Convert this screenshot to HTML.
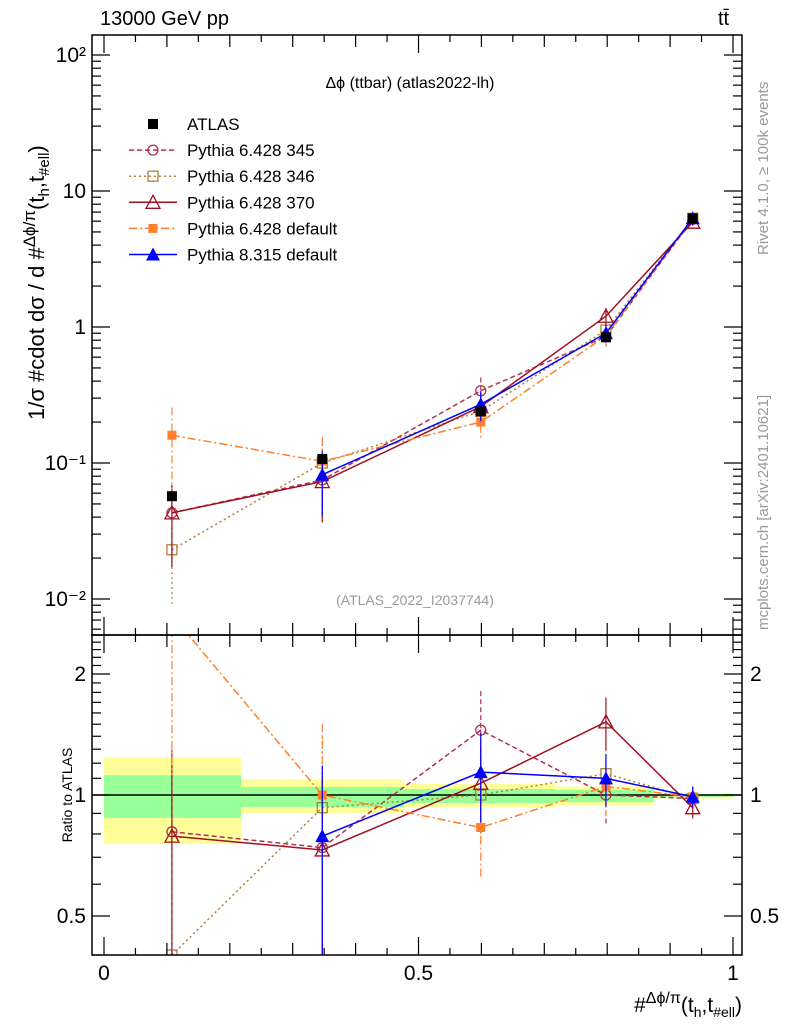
<!DOCTYPE html>
<html><head><meta charset="utf-8"><style>
html,body{margin:0;padding:0;background:#fff;overflow:hidden;width:786px;height:1024px}
svg{display:block;font-family:"Liberation Sans",sans-serif}
</style></head><body>
<svg id="c" width="786" height="1024" xmlns="http://www.w3.org/2000/svg">
<defs>
<clipPath id="cm"><rect x="92" y="35" width="650" height="600"/></clipPath>
<clipPath id="cr"><rect x="92" y="635" width="650" height="320"/></clipPath>
</defs>
<g id="bands" clip-path="url(#cr)"></g>
<g id="main" clip-path="url(#cm)"></g>
<g id="ratio" clip-path="url(#cr)"></g>
<g id="axes"></g>
<rect x="92" y="35" width="650" height="600" fill="none" stroke="#000" stroke-width="1.5"/>
<rect x="92" y="635" width="650" height="320" fill="none" stroke="#000" stroke-width="1.5"/>
<text x="100" y="25" font-size="20">13000 GeV pp</text>
<text x="718" y="25" font-size="20">tt̄</text>
<text x="410" y="88" font-size="16" text-anchor="middle">Δϕ (ttbar) (atlas2022-lh)</text>
<text x="415" y="605" font-size="14" fill="#999" text-anchor="middle">(ATLAS_2022_I2037744)</text>
<text transform="translate(768,255) rotate(-90)" font-size="15" fill="#999">Rivet 4.1.0, ≥ 100k events</text>
<text transform="translate(768,630) rotate(-90)" font-size="15" fill="#999">mcplots.cern.ch [arXiv:2401.10621]</text>
<text transform="translate(44,420) rotate(-90)" font-size="22">1/σ #cdot dσ / d #<tspan font-size="17" dy="-9">Δϕ/π</tspan><tspan dy="9">(t</tspan><tspan font-size="15" dy="5">h</tspan><tspan dy="-5">,t</tspan><tspan font-size="15" dy="5">#ell</tspan><tspan dy="-5">)</tspan></text>
<text transform="translate(72,795) rotate(-90)" font-size="14" text-anchor="middle">Ratio to ATLAS</text>
<text x="742" y="1012" font-size="21" text-anchor="end">#<tspan font-size="16" dy="-9">Δϕ/π</tspan><tspan dy="9">(t</tspan><tspan font-size="14" dy="5">h</tspan><tspan dy="-5">,t</tspan><tspan font-size="14" dy="5">#ell</tspan><tspan dy="-5">)</tspan></text>
<g id="legend"></g>
</svg>
<script>
const xs=[0.108,0.347,0.599,0.798,0.936];
const atlas=[0.057,0.107,0.24,0.84,6.3];
const p345=[0.043,0.075,0.34,0.85,6.2];
const p346=[0.023,0.10,0.24,0.95,6.3];
const p370=[0.043,0.073,0.26,1.2,5.9];
const pdef=[0.16,0.103,0.20,0.86,6.3];
const p8=[null,0.082,0.27,0.90,6.3];
const r345=[0.81,0.74,1.45,1.0,0.98];
const r346=[0.40,0.93,1.0,1.13,0.98];
const r370=[0.79,0.73,1.07,1.52,0.93];
const rdef=[2.8,1.0,0.83,1.05,0.99];
const r8=[null,0.79,1.14,1.10,0.99];
const relErr=[0.6,0.5,0.25,0.15,0.06];
const binEdges=[0,0.218,0.477,0.717,0.874,1.0];
const yellowLo=[0.755,0.90,0.933,0.944,0.98];
const yellowHi=[1.24,1.095,1.065,1.05,1.01];
const greenLo=[0.877,0.933,0.955,0.96,0.99];
const greenHi=[1.12,1.047,1.035,1.03,1.006];
const NS='http://www.w3.org/2000/svg';
const X=v=>104+v*629;
const Ym=v=>327-136*Math.log10(v);
const Yr=v=>795-402*Math.log10(v);
function mk(tag,at,par){const e=document.createElementNS(NS,tag);for(const k in at)e.setAttribute(k,at[k]);document.getElementById(par).appendChild(e);return e;}
for(let i=0;i<5;i++){
 const y=mk('rect',{x:X(binEdges[i]),width:X(binEdges[i+1])-X(binEdges[i]),y:Yr(yellowHi[i]),height:Yr(yellowLo[i])-Yr(yellowHi[i]),fill:'#ffff99'},'bands');
 
 
 const g=mk('rect',{x:X(binEdges[i]),width:X(binEdges[i+1])-X(binEdges[i]),y:Yr(greenHi[i]),height:Yr(greenLo[i])-Yr(greenHi[i]),fill:'#99ff99'},'bands');
 
 
}
const one=mk('line',{x1:92,x2:742,y1:Yr(1),y2:Yr(1),stroke:'#000','stroke-width':1.5},'bands');


function marker(type,x,y,col,par){
 let e;
 if(type==='sq') e=mk('rect',{x:x-5,y:y-5,width:10,height:10,fill:col},par);
 if(type==='osq') e=mk('rect',{x:x-5,y:y-5,width:10,height:10,fill:'none',stroke:col,'stroke-width':1.3},par);
 if(type==='oc') e=mk('circle',{cx:x,cy:y,r:5,fill:'none',stroke:col,'stroke-width':1.3},par);
 if(type==='ot') e=mk('polygon',{points:`${x},${y-7} ${x-7},${y+6} ${x+7},${y+6}`,fill:'none',stroke:col,'stroke-width':1.3},par);
 if(type==='t') e=mk('polygon',{points:`${x},${y-7} ${x-7},${y+6} ${x+7},${y+6}`,fill:col},par);
 if(type==='fsq') e=mk('rect',{x:x-4.5,y:y-4.5,width:9,height:9,fill:col},par);
 
 
}
const series=[
 {n:'pythia-345',m:p345,r:r345,c:'#b03050',d:'5,3',t:'oc',lab:'Pythia 6.428 345'},
 {n:'pythia-346',m:p346,r:r346,c:'#b0803a',d:'2,3',t:'osq',lab:'Pythia 6.428 346'},
 {n:'pythia-370',m:p370,r:r370,c:'#a01020',d:'',t:'ot',lab:'Pythia 6.428 370'},
 {n:'pythia6-default',m:pdef,r:rdef,c:'#ff7f2a',d:'8,3,2,3',t:'fsq',lab:'Pythia 6.428 default'},
 {n:'pythia8-default',m:p8,r:r8,c:'#0000ff',d:'',t:'t',lab:'Pythia 8.315 default'}];
function drawSeries(s,vals,Y,par){
 let pts=[];
 vals.forEach((v,i)=>{if(v!=null)pts.push([X(xs[i]),Y(v),i,v]);});
 const l=mk('polyline',{points:pts.map(p=>p[0]+','+p[1]).join(' '),fill:'none',stroke:s.c,'stroke-width':1.5,'stroke-dasharray':s.d},par);
 
 
 pts.forEach(p=>{
  const e=relErr[p[2]];
  const eb=mk('line',{x1:p[0],x2:p[0],y1:Y(p[3]*(1+e)),y2:Y(Math.max(p[3]*(1-e),1e-4)),stroke:s.c,'stroke-width':1.2,'stroke-dasharray':s.d},par);
  
  
  marker(s.t,p[0],p[1],s.c,par);
 });
}
series.forEach(s=>{drawSeries(s,s.m,Ym,'main');drawSeries(s,s.r,Yr,'ratio');});
atlas.forEach((v,i)=>marker('sq',X(xs[i]),Ym(v),'#000','main'));
function ln(x1,y1,x2,y2,name){const e=mk('line',{x1,y1,x2,y2,stroke:'#000','stroke-width':1.2},'axes');}
function tx(x,y,s,anchor,name,fs){const e=mk('text',{x,y,'font-size':fs||21,'text-anchor':anchor},'axes');e.textContent=s;return e;}
for(let d=-3;d<=2;d++)for(let k=1;k<10;k++){const v=k*Math.pow(10,d);const y=Ym(v);if(y<35||y>635)continue;const L=k===1?18:9;ln(92,y,92+L,y,'y-tick');ln(742,y,742-L,y,'y-tick');}
const ml=[[100,'10²'],[10,'10'],[1,'1'],[0.1,'10⁻¹'],[0.01,'10⁻²']];
ml.forEach(m=>tx(86,Ym(m[0])+7,m[1],'end','y-tick-label'));
for(let k=4;k<=25;k++){const v=k/10;const y=Yr(v);if(y<635||y>955)continue;const maj=(k===5||k===10||k===20);ln(92,y,92+(maj?18:9),y,'ratio-y-tick');ln(742,y,742-(maj?18:9),y,'ratio-y-tick');}
[[2,'2'],[1,'1'],[0.5,'0.5']].forEach(m=>{tx(86,Yr(m[0])+7,m[1],'end','ratio-tick-label');tx(750,Yr(m[0])+7,m[1],'start','ratio-tick-label');});
for(let k=0;k<=20;k++){const x=X(k*0.05);const L=k%10===0?18:(k%2===0?12:7);ln(x,955,x,955-L,'x-tick');ln(x,35,x,35+L,'x-tick');ln(x,635,x,635-L,'x-tick');ln(x,635,x,635+L,'x-tick');}
[[0,'0'],[0.5,'0.5'],[1,'1']].forEach(m=>tx(X(m[0]),980,m[1],'middle','x-tick-label'));
const rows=[{lab:'ATLAS',t:'sq',c:'#000',d:null}].concat(series.map(s=>({lab:s.lab,t:s.t,c:s.c,d:s.d})));
rows.forEach((r,i)=>{const y=124+i*26.1;
 if(r.d!==null){const l=mk('line',{x1:129,x2:177,y1:y,y2:y,stroke:r.c,'stroke-width':1.5,'stroke-dasharray':r.d},'legend');}
 marker(r.t,153,y,r.c,'legend');
 const t=mk('text',{x:187,y:y+6,'font-size':17},'legend');t.textContent=r.lab;
 
 
});
</script>
</body></html>
